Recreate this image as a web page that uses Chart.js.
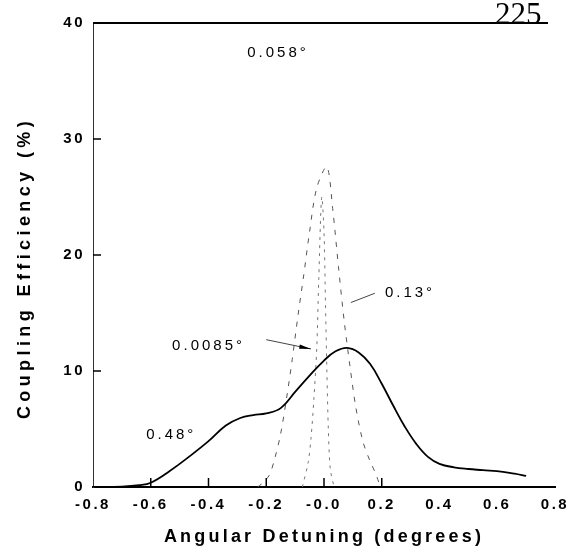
<!DOCTYPE html>
<html>
<head>
<meta charset="utf-8">
<script src="https://cdn.jsdelivr.net/npm/chart.js"></script>
<style>
  html, body { margin: 0; padding: 0; background: #fff; }
</style>
</head>
<body>
<canvas id="chart" width="578" height="550"></canvas>
<script>
// axis ticks
const xTickValues = [-0.8, -0.6, -0.4, -0.2, 0, 0.2, 0.4, 0.6, 0.8];
const xTickLabels = ['-0.8', '-0.6', '-0.4', '-0.2', '-0.0', '0.2', '0.4', '0.6', '0.8'];
const yTickValues = [0, 10, 20, 30, 40];
const innerXTicks = [-0.6, -0.4, -0.2, 0, 0.2];
const innerYTicks = [10, 20, 30];

// 0.48 deg curve (solid)
const broadX = [-0.80, -0.70, -0.64, -0.60, -0.533, -0.46, -0.40, -0.34, -0.29, -0.245, -0.20, -0.15, -0.10, -0.05, 0.0, 0.04, 0.08, 0.12, 0.16, 0.20, 0.24, 0.28, 0.32, 0.36, 0.40, 0.45, 0.50, 0.55, 0.62, 0.66, 0.70];
const broadY = [0, 0.03, 0.15, 0.37, 1.4, 2.75, 3.95, 5.3, 5.95, 6.2, 6.35, 6.8, 8.2, 9.6, 10.9, 11.7, 12.0, 11.6, 10.6, 8.9, 7.0, 5.2, 3.7, 2.6, 2.0, 1.7, 1.55, 1.45, 1.3, 1.15, 0.95];

// tall dashed curve
const tallX = [-0.23, -0.215, -0.19, -0.17, -0.15, -0.13, -0.11, -0.09, -0.07, -0.05, -0.025, 0.01, 0.03, 0.05, 0.07, 0.09, 0.11, 0.135, 0.16, 0.18, 0.19, 0.2];
const tallY = [0, 0.3, 1.0, 2.5, 4.6, 7.6, 11.0, 14.8, 18.3, 22.0, 25.8, 27.6, 24.0, 19.0, 14.3, 10.4, 6.9, 3.9, 2.2, 1.1, 0.4, 0];

// narrow dotted curve
const narrowX = [-0.075, -0.055, -0.045, -0.035, -0.025, -0.018, -0.008, 0.0, 0.005, 0.01, 0.015, 0.022, 0.035];
const narrowY = [0, 2.1, 4.2, 7.6, 12, 18, 25, 22, 16, 10, 5, 1.5, 0];

// annotations
const noteText = ['0.058°', '0.13°', '0.0085°', '0.48°'];
const noteX = [-0.266, 0.211, -0.526, -0.616];
const noteY = [37.4, 16.7, 12.2, 4.5];

function pts(xs, ys) {
  return xs.map((x, i) => ({ x: x, y: ys[i] }));
}

const FONT = '"Liberation Sans", Arial, sans-serif';

const paperPlugin = {
  id: 'paper',
  beforeDraw(chart) {
    chart.ctx.letterSpacing = '2.5px';
  },
  afterDraw(chart) {
    const ctx = chart.ctx;
    const xs = chart.scales.x, ys = chart.scales.y;
    const area = chart.chartArea;
    ctx.save();
    ctx.strokeStyle = '#000';
    ctx.fillStyle = '#000';

    // top frame line
    ctx.lineWidth = 2;
    ctx.beginPath();
    ctx.moveTo(area.left, ys.getPixelForValue(40));
    ctx.lineTo(area.right - 7, ys.getPixelForValue(40));
    ctx.stroke();

    // inward ticks
    ctx.lineWidth = 1.5;
    innerYTicks.forEach(v => {
      const p = ys.getPixelForValue(v);
      ctx.beginPath();
      ctx.moveTo(area.left, p);
      ctx.lineTo(area.left + 8, p);
      ctx.stroke();
    });
    innerXTicks.forEach(v => {
      const p = xs.getPixelForValue(v);
      ctx.beginPath();
      ctx.moveTo(p, area.bottom);
      ctx.lineTo(p, area.bottom - 9);
      ctx.stroke();
    });

    // leader lines
    ctx.lineWidth = 1;
    ctx.strokeStyle = '#444';
    ctx.beginPath();
    ctx.moveTo(xs.getPixelForValue(0.176), ys.getPixelForValue(16.7));
    ctx.lineTo(xs.getPixelForValue(0.093), ys.getPixelForValue(15.9));
    ctx.stroke();
    const ax0 = xs.getPixelForValue(-0.2), ay0 = ys.getPixelForValue(12.7);
    const ax1 = xs.getPixelForValue(-0.045), ay1 = ys.getPixelForValue(11.9);
    ctx.beginPath();
    ctx.moveTo(ax0, ay0);
    ctx.lineTo(ax1, ay1);
    ctx.stroke();
    const ang = Math.atan2(ay1 - ay0, ax1 - ax0);
    ctx.beginPath();
    ctx.moveTo(ax1, ay1);
    ctx.lineTo(ax1 - 12 * Math.cos(ang - 0.18), ay1 - 12 * Math.sin(ang - 0.18));
    ctx.lineTo(ax1 - 12 * Math.cos(ang + 0.18), ay1 - 12 * Math.sin(ang + 0.18));
    ctx.closePath();
    ctx.fill();

    // curve labels
    ctx.letterSpacing = '3px';
    ctx.font = '15px ' + FONT;
    ctx.textAlign = 'left';
    ctx.textBaseline = 'middle';
    noteText.forEach((t, i) => {
      ctx.fillText(t, xs.getPixelForValue(noteX[i]), ys.getPixelForValue(noteY[i]));
    });

    // axis titles
    ctx.font = 'bold 18px ' + FONT;
    ctx.textAlign = 'center';
    ctx.letterSpacing = '3.2px';
    ctx.fillText('Angular Detuning (degrees)', 324, 537);
    ctx.save();
    ctx.translate(25, 268);
    ctx.rotate(-Math.PI / 2);
    ctx.letterSpacing = '4.4px';
    ctx.fillText('Coupling Efficiency (%)', 0, 0);
    ctx.restore();

    // page number
    ctx.letterSpacing = '0px';
    ctx.font = '31px "Liberation Serif", serif';
    ctx.textAlign = 'left';
    ctx.textBaseline = 'alphabetic';
    ctx.fillText('225', 495, 24);
    ctx.restore();
  }
};

new Chart(document.getElementById('chart'), {
  type: 'line',
  data: {
    datasets: [
      {
        label: '0.48°',
        data: pts(broadX, broadY),
        borderColor: '#000',
        borderWidth: 1.8,
        pointRadius: 0,
        tension: 0.4,
        fill: false
      },
      {
        label: '0.058°',
        data: pts(tallX, tallY),
        borderColor: '#555',
        borderWidth: 1,
        borderDash: [5, 7],
        pointRadius: 0,
        tension: 0.3,
        fill: false
      },
      {
        label: '0.0085°',
        data: pts(narrowX, narrowY),
        borderColor: '#777',
        borderWidth: 1,
        borderDash: [3, 5],
        pointRadius: 0,
        tension: 0.3,
        fill: false
      }
    ]
  },
  options: {
    responsive: false,
    animation: false,
    layout: { padding: { top: 23, right: 23, left: 0, bottom: 0 } },
    plugins: {
      legend: { display: false },
      tooltip: { enabled: false }
    },
    scales: {
      x: {
        type: 'linear',
        min: -0.8,
        max: 0.8,
        afterFit(scale) { scale.height = 63; },
        afterBuildTicks(scale) { scale.ticks = xTickValues.map(v => ({ value: v })); },
        grid: { display: false, drawTicks: false },
        border: { display: true, color: '#000', width: 2 },
        ticks: {
          autoSkip: false,
          maxRotation: 0,
          padding: 9,
          color: '#000',
          font: { family: FONT, size: 15, weight: 'bold' },
          callback: (v, i) => xTickLabels[i]
        }
      },
      y: {
        min: 0,
        max: 40,
        afterFit(scale) { scale.width = 93; },
        afterBuildTicks(scale) { scale.ticks = yTickValues.map(v => ({ value: v })); },
        grid: { display: false, drawTicks: false },
        border: { display: true, color: '#333', width: 1, dash: [4, 6] },
        ticks: {
          padding: 8,
          color: '#000',
          font: { family: FONT, size: 15, weight: 'bold' },
          callback: v => String(v)
        }
      }
    }
  },
  plugins: [paperPlugin]
});
</script>
</body>
</html>
